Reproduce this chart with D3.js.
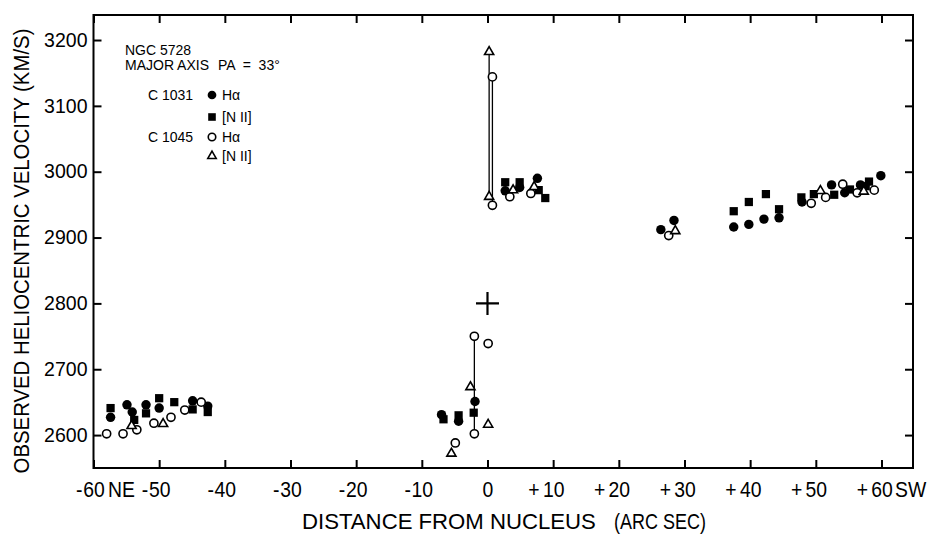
<!DOCTYPE html>
<meta charset="utf-8">
<script src="https://d3js.org/d3.v7.min.js"></script>
<style>
  body { margin: 0; background: #fff; }
  text { font-family: "Liberation Sans", Arial, sans-serif; fill: #000; }
</style>
<div id="chart"></div>
<script>
    // data: [distance arcsec, velocity km/s]
    const haC1031 = [
        [-57.4,2627],[-54.9,2646],[-54.1,2635],[-52.0,2646],[-50.0,2641],[-44.9,2652],[-42.6,2644],
        [-7.0,2631],[-4.4,2621],[-1.9,2651],
        [2.7,2971],[4.9,2976],[7.6,2990],
        [26.4,2912],[28.4,2926],[37.5,2916],[39.8,2920],[42.1,2928],[44.4,2930],
        [47.9,2954],[52.4,2980],[54.4,2968],[56.8,2980],[59.9,2994]
    ];
    const n2C1031 = [
        [-57.4,2641],[-53.8,2623],[-52.0,2633],[-50.0,2656],[-47.7,2650],[-44.9,2639],[-42.6,2635],
        [-6.7,2624],[-4.4,2630],[-2.1,2634],
        [2.7,2984],[4.9,2984],[7.8,2972],[8.8,2960],
        [37.5,2940],[39.8,2954],[42.4,2966],[44.4,2943],
        [47.8,2961],[49.7,2966],[52.8,2965],[55.2,2973],[57.6,2978],[58.1,2985]
    ];
    const haC1045 = [
        [-58.0,2602],[-55.5,2602],[-53.4,2608],[-50.8,2618],[-48.2,2627],[-46.1,2638],[-43.6,2650],
        [-4.9,2588],[-2.0,2602],[-2.0,2750],[0.1,2739],
        [0.75,3144],[0.75,2949],[3.4,2962],[6.6,2967],
        [27.6,2903],[49.3,2952],[51.5,2961],[54.1,2981],[56.3,2968],[58.9,2972]
    ];
    const n2C1045 = [
        [-54.2,2614],[-49.4,2617],
        [-5.5,2572],[-2.6,2673],[0.1,2616],
        [0.25,3182],[0.25,2962],[3.9,2972],[7.1,2977],
        [28.6,2910],[50.7,2971],[57.3,2970]
    ];
    // vertical connectors: [distance, velocity top, velocity bottom]
    const links = [[0.25,3182,2962],[0.75,3144,2949],[-2.0,2750,2602]];
    const nucleus = [0, 2800];

    const xTicks = [-60,-50,-40,-30,-20,-10,0,10,20,30,40,50,60];
    const yTicks = [2600,2700,2800,2900,3000,3100,3200];

    const W = 934, H = 534;
    const mLeft = 93.5, mRight = 913, mTop = 15, mBottom = 468;

    const svg = d3.select("#chart").append("svg")
        .attr("width", W).attr("height", H);

    const x = d3.scaleLinear().domain([-60, 64.8]).range([mLeft, mRight]);
    const y = d3.scaleLinear().domain([2550, 3238]).range([mBottom, mTop]);

    // frame
    svg.append("rect")
        .attr("x", mLeft).attr("y", mTop)
        .attr("width", mRight - mLeft).attr("height", mBottom - mTop)
        .attr("fill", "none").attr("stroke", "#000").attr("stroke-width", 2);

    // axes, ticks pointing inward
    const xAxis = svg.append("g")
        .attr("transform", `translate(0,${mBottom})`)
        .call(d3.axisBottom(x).tickValues(xTicks).tickSizeInner(-8).tickSizeOuter(0)
            .tickFormat(d => Math.abs(d)));
    svg.append("g")
        .attr("transform", `translate(0,${mTop})`)
        .call(d3.axisTop(x).tickValues(xTicks).tickSizeInner(-8).tickSizeOuter(0).tickFormat(""));
    const yAxis = svg.append("g")
        .attr("transform", `translate(${mLeft},0)`)
        .call(d3.axisLeft(y).tickValues(yTicks).tickSizeInner(-8).tickSizeOuter(0).tickPadding(6)
            .tickFormat(d3.format("d")));
    svg.append("g")
        .attr("transform", `translate(${mRight},0)`)
        .call(d3.axisRight(y).tickValues(yTicks).tickSizeInner(-8).tickSizeOuter(0).tickFormat(""));

    svg.selectAll(".domain").remove();
    svg.selectAll(".tick line").attr("stroke", "#000").attr("stroke-width", 2);

    yAxis.selectAll("text")
        .attr("font-size", 19.5)
        .attr("font-family", "Liberation Sans, Arial, sans-serif")
        .attr("fill", "#000");

    const sx = 0.88;
    xAxis.selectAll("text")
        .attr("font-size", 22)
        .attr("font-family", "Liberation Sans, Arial, sans-serif")
        .attr("fill", "#000")
        .attr("y", 29).attr("dy", 0)
        .attr("transform", `scale(${sx},1)`);

    // sign prefixes and NE / SW suffixes beside the tick numbers
    xAxis.selectAll(".tick").each(function(d) {
        const g = d3.select(this);
        const add = (t, xx, anchor) => g.append("text")
            .attr("x", xx / sx).attr("y", 29)
            .attr("text-anchor", anchor)
            .attr("font-size", 22)
            .attr("transform", `scale(${sx},1)`)
            .text(t);
        if (d < 0) add("-", -11.5, "end");
        if (d > 0) add("+", -14, "end");
        if (d === -60) add("NE", 14, "start");
        if (d === 60) add("SW", 13, "start");
    });

    // axis titles, squeezed horizontally to the printed width
    function squeezed(tx, ty, rot, anchor, width, label) {
        const g = svg.append("g").attr("transform", `translate(${tx},${ty}) rotate(${rot})`);
        const t = g.append("text")
            .attr("text-anchor", anchor)
            .attr("font-size", 22)
            .text(label);
        const len = t.node().getComputedTextLength();
        g.attr("transform", `translate(${tx},${ty}) rotate(${rot}) scale(${width / len},1)`);
    }
    squeezed(29, 251, -90, "middle", 445, "OBSERVED HELIOCENTRIC VELOCITY (KM/S)");
    squeezed(302, 529, 0, "start", 294, "DISTANCE FROM NUCLEUS");
    squeezed(614, 529, 0, "start", 92, "(ARC SEC)");

    // connectors
    svg.append("g").selectAll("line")
        .data(links)
        .join("line")
            .attr("x1", d => x(d[0])).attr("x2", d => x(d[0]))
            .attr("y1", d => y(d[1])).attr("y2", d => y(d[2]))
            .attr("stroke", "#000").attr("stroke-width", 1.3);

    // nucleus cross
    const cx = x(nucleus[0]), cy = y(nucleus[1]);
    svg.append("path")
        .attr("d", `M${cx-11.5},${cy}H${cx+11.5}M${cx},${cy-11.5}V${cy+11.5}`)
        .attr("stroke", "#000").attr("stroke-width", 2.2).attr("fill", "none");

    // symbol styles
    const styles = {
        dot:  { type: d3.symbolCircle,   size: 70, fill: "#000", stroke: "none", sw: 0 },
        sq:   { type: d3.symbolSquare,   size: 68, fill: "#000", stroke: "none", sw: 0 },
        ring: { type: d3.symbolCircle,   size: 52, fill: "#fff", stroke: "#000", sw: 1.6 },
        tri:  { type: d3.symbolTriangle, size: 36, fill: "#fff", stroke: "#000", sw: 1.6 }
    };
    function drawSeries(data, st) {
        const s = styles[st];
        svg.append("g").selectAll("path")
            .data(data)
            .join("path")
                .attr("transform", d => `translate(${x(d[0])},${y(d[1])})`)
                .attr("d", d3.symbol().type(s.type).size(s.size))
                .attr("fill", s.fill).attr("stroke", s.stroke).attr("stroke-width", s.sw);
    }
    drawSeries(haC1031, "dot");
    drawSeries(n2C1031, "sq");
    drawSeries(haC1045, "ring");
    drawSeries(n2C1045, "tri");

    // legend
    const lg = svg.append("g");
    lg.append("text").attr("x", 125).attr("y", 55).attr("font-size", 14).text("NGC 5728");
    lg.append("text").attr("x", 125).attr("y", 70).attr("font-size", 14).text("MAJOR AXIS");
    lg.append("text").attr("x", 218).attr("y", 70).attr("font-size", 14).attr("xml:space", "preserve").text("PA  =  33°");
    lg.append("text").attr("x", 148).attr("y", 100).attr("font-size", 14).text("C 1031");
    lg.append("text").attr("x", 148).attr("y", 142).attr("font-size", 14).text("C 1045");
    const entries = [
        ["dot", 95, "Hα"], ["sq", 117, "[N II]"], ["ring", 137, "Hα"], ["tri", 156, "[N II]"]
    ];
    entries.forEach(e => {
        const s = styles[e[0]];
        lg.append("path")
            .attr("transform", `translate(212,${e[1]})`)
            .attr("d", d3.symbol().type(s.type).size(s.size * 0.85))
            .attr("fill", s.fill).attr("stroke", s.stroke).attr("stroke-width", s.sw);
        lg.append("text").attr("x", 222).attr("y", e[1] + 5).attr("font-size", 14).text(e[2]);
    });
</script>
